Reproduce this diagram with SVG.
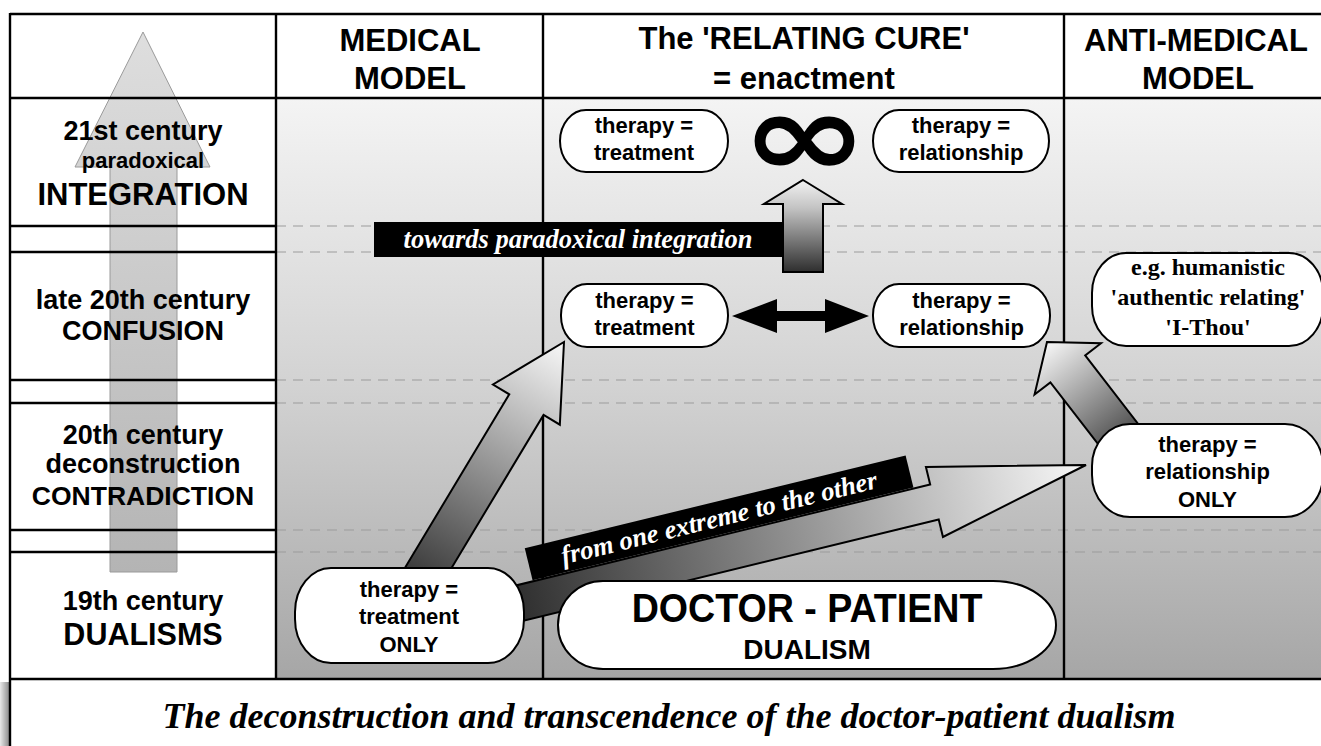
<svg xmlns="http://www.w3.org/2000/svg" width="1321" height="746" viewBox="0 0 1321 746">
  <defs>
    <style>
      .sb { font-family: "Liberation Sans", Arial, Helvetica, sans-serif; font-weight: bold; text-anchor: middle; fill: #000; }
      .serif-b { font-family: "Liberation Serif", "Times New Roman", serif; font-weight: bold; text-anchor: middle; fill: #000; }
      .serif-bi { font-family: "Liberation Serif", "Times New Roman", serif; font-weight: bold; font-style: italic; text-anchor: middle; }
      .node { fill: #fff; stroke: #000; stroke-width: 2; }
      .rule { stroke: #000; stroke-width: 2.4; fill: none; }
      .dash { stroke: #9c9c9c; stroke-width: 1.2; stroke-dasharray: 10 7; fill: none; }
      .block { stroke: #000; stroke-width: 2; stroke-linejoin: miter; }
    </style>
    <linearGradient id="fieldShade" x1="0" y1="98" x2="0" y2="679" gradientUnits="userSpaceOnUse">
      <stop offset="0" stop-color="#f4f4f4"/>
      <stop offset="0.5" stop-color="#d2d2d2"/>
      <stop offset="1" stop-color="#a6a6a6"/>
    </linearGradient>
    <linearGradient id="timeArrow" x1="0" y1="32" x2="0" y2="572" gradientUnits="userSpaceOnUse">
      <stop offset="0" stop-color="#dedede"/>
      <stop offset="1" stop-color="#b4b4b4"/>
    </linearGradient>
    <!-- tail (dark) to tip (light) along the local x axis of each block arrow -->
    <linearGradient id="tailToTip" x1="0" y1="0" x2="1" y2="0">
      <stop offset="0" stop-color="#2a2a2a"/>
      <stop offset="1" stop-color="#f8f8f8"/>
    </linearGradient>
    <linearGradient id="upShade" x1="0" y1="180" x2="0" y2="272" gradientUnits="userSpaceOnUse">
      <stop offset="0" stop-color="#f2f2f2"/>
      <stop offset="0.3" stop-color="#c4c4c4"/>
      <stop offset="1" stop-color="#2e2e2e"/>
    </linearGradient>
    <linearGradient id="edgeShadow" x1="0" y1="0" x2="1" y2="0">
      <stop offset="0" stop-color="#e8e8e8"/>
      <stop offset="1" stop-color="#8e8e8e"/>
    </linearGradient>
  </defs>

  <!-- page -->
  <rect x="0" y="0" width="1321" height="746" fill="#fff"/>
  <rect x="0" y="682" width="9" height="64" fill="url(#edgeShadow)"/>

  <!-- shaded field behind the three model columns -->
  <rect x="276" y="98" width="1054" height="581" fill="url(#fieldShade)"/>

  <!-- historical time arrow in the period column -->
  <polygon points="143,32 210,167 177,167 177,572 110,572 110,167 75,167" fill="url(#timeArrow)" stroke="#9a9a9a" stroke-width="1"/>

  <!-- period separators -->
  <g id="period-lines">
    <line class="dash" x1="276" y1="226" x2="1321" y2="226"/>
    <line class="dash" x1="276" y1="252" x2="1321" y2="252"/>
    <line class="dash" x1="276" y1="380" x2="1321" y2="380"/>
    <line class="dash" x1="276" y1="403" x2="1321" y2="403"/>
    <line class="dash" x1="276" y1="530" x2="1321" y2="530"/>
    <line class="dash" x1="276" y1="552" x2="1321" y2="552"/>
  </g>

  <!-- table rules -->
  <g id="frame">
    <line class="rule" x1="10" y1="14" x2="1330" y2="14"/>
    <line class="rule" x1="10" y1="98" x2="1330" y2="98"/>
    <line class="rule" x1="10" y1="679" x2="1330" y2="679"/>
    <line class="rule" x1="10" y1="13" x2="10" y2="746"/>
    <line class="rule" x1="276" y1="13" x2="276" y2="680"/>
    <line class="rule" x1="543" y1="13" x2="543" y2="680"/>
    <line class="rule" x1="1064" y1="13" x2="1064" y2="680"/>
    <line class="rule" x1="10" y1="226" x2="276" y2="226"/>
    <line class="rule" x1="10" y1="252" x2="276" y2="252"/>
    <line class="rule" x1="10" y1="380" x2="276" y2="380"/>
    <line class="rule" x1="10" y1="403" x2="276" y2="403"/>
    <line class="rule" x1="10" y1="530" x2="276" y2="530"/>
    <line class="rule" x1="10" y1="552" x2="276" y2="552"/>
  </g>

  <!-- column headings -->
  <g id="headings">
    <text class="sb" font-size="31" x="410" y="51">MEDICAL</text>
    <text class="sb" font-size="31" x="410" y="89">MODEL</text>
    <text class="sb" font-size="31" x="804" y="49">The 'RELATING CURE'</text>
    <text class="sb" font-size="31" x="804" y="89">= enactment</text>
    <text class="sb" font-size="31" x="1196" y="51">ANTI-MEDICAL</text>
    <text class="sb" font-size="31" x="1198" y="89">MODEL</text>
  </g>

  <!-- period labels -->
  <g id="periods">
    <text class="sb" font-size="27" x="143" y="140">21st century</text>
    <text class="sb" font-size="22" x="143" y="168">paradoxical</text>
    <text class="sb" font-size="31" x="143" y="205">INTEGRATION</text>
    <text class="sb" font-size="27" x="143" y="309">late 20th century</text>
    <text class="sb" font-size="27" x="143" y="340">CONFUSION</text>
    <text class="sb" font-size="27" x="143" y="444">20th century</text>
    <text class="sb" font-size="27" x="143" y="473">deconstruction</text>
    <text class="sb" font-size="26.5" x="143" y="505">CONTRADICTION</text>
    <text class="sb" font-size="27" x="143" y="610">19th century</text>
    <text class="sb" font-size="30.5" x="143" y="645">DUALISMS</text>
  </g>

  <!-- connectors -->
  <g id="connectors">
    <!-- treatment ONLY -> relationship ONLY, with its label band -->
    <g transform="translate(1086,465) rotate(-13.7)">
      <polygon class="block" fill="url(#tailToTip)" points="0,0 -156,36 -156,18 -600,18 -600,-18 -156,-18 -156,-36"/>
      <rect x="-565" y="-52" width="392" height="33" fill="#000"/>
      <text class="serif-bi" font-size="26.5" x="-369" y="-27" fill="#fff">from one extreme to the other</text>
    </g>
    <!-- treatment ONLY -> therapy = treatment -->
    <g transform="translate(564,342) rotate(-59)">
      <polygon class="block" fill="url(#tailToTip)" points="0,0 -73,39 -73,20 -300,20 -300,-20 -73,-20 -73,-39"/>
    </g>
    <!-- relationship ONLY -> therapy = relationship -->
    <g transform="translate(1047,342) rotate(-127.7)">
      <polygon class="block" fill="url(#tailToTip)" points="0,0 -34,42 -34,22 -150,22 -150,-22 -34,-22 -34,-42"/>
    </g>
    <!-- towards paradoxical integration -->
    <rect x="374" y="222" width="409" height="35" fill="#000"/>
    <text class="serif-bi" font-size="26.5" x="578" y="248" fill="#fff">towards paradoxical integration</text>
    <polygon class="block" fill="url(#upShade)" points="803,180 842,204 823,204 823,272 783,272 783,204 764,204"/>
    <!-- treatment <-> relationship -->
    <polygon fill="#000" points="732,316 777,299 777,311 825,311 825,299 869,316 825,333 825,321 777,321 777,333"/>
  </g>

  <!-- nodes -->
  <g id="node-integration-treatment">
    <rect class="node" x="560" y="110" width="168" height="62" rx="26" ry="31"/>
    <text class="sb" font-size="22" x="644" y="133">therapy =</text>
    <text class="sb" font-size="22" x="644" y="160">treatment</text>
  </g>
  <g id="node-infinity">
    <text transform="translate(804.5,176) scale(1.2,0.92)" font-family="'DejaVu Sans', sans-serif" font-weight="bold" font-size="128" text-anchor="middle">∞</text>
  </g>
  <g id="node-integration-relationship">
    <rect class="node" x="873" y="110" width="176" height="62" rx="26" ry="31"/>
    <text class="sb" font-size="22" x="961" y="133">therapy =</text>
    <text class="sb" font-size="22" x="961" y="160">relationship</text>
  </g>
  <g id="node-confusion-treatment">
    <rect class="node" x="561" y="284" width="167" height="63" rx="26" ry="31"/>
    <text class="sb" font-size="22" x="644.5" y="308">therapy =</text>
    <text class="sb" font-size="22" x="644.5" y="335">treatment</text>
  </g>
  <g id="node-confusion-relationship">
    <rect class="node" x="873" y="284" width="177" height="63" rx="26" ry="31"/>
    <text class="sb" font-size="22" x="961.5" y="308">therapy =</text>
    <text class="sb" font-size="22" x="961.5" y="335">relationship</text>
  </g>
  <g id="node-humanistic">
    <rect class="node" x="1092" y="253" width="231" height="93" rx="34" ry="40"/>
    <text class="serif-b" font-size="24" x="1208" y="275">e.g. humanistic</text>
    <text class="serif-b" font-size="24" x="1208" y="305">'authentic relating'</text>
    <text class="serif-b" font-size="24" x="1208" y="335">'I-Thou'</text>
  </g>
  <g id="node-relationship-only">
    <rect class="node" x="1092" y="424" width="231" height="93" rx="38" ry="42"/>
    <text class="sb" font-size="22" x="1207.5" y="452">therapy =</text>
    <text class="sb" font-size="22" x="1207.5" y="479">relationship</text>
    <text class="sb" font-size="22" x="1207.5" y="507">ONLY</text>
  </g>
  <g id="node-treatment-only">
    <rect class="node" x="295" y="568" width="229" height="95" rx="36" ry="44"/>
    <text class="sb" font-size="22" x="409" y="597">therapy =</text>
    <text class="sb" font-size="22" x="409" y="624">treatment</text>
    <text class="sb" font-size="22" x="409" y="652">ONLY</text>
  </g>
  <g id="node-doctor-patient">
    <path class="node" d="M603,581 H993 A63,44 0 0 1 993,669 H603 A45,44 0 0 1 603,581 Z"/>
    <text class="sb" font-size="40" transform="translate(807,622) scale(0.94,1)">DOCTOR - PATIENT</text>
    <text class="sb" font-size="28" x="807" y="659">DUALISM</text>
  </g>

  <!-- caption -->
  <text class="serif-bi" font-size="36" x="669" y="728" fill="#000">The deconstruction and transcendence of the doctor-patient dualism</text>
</svg>
